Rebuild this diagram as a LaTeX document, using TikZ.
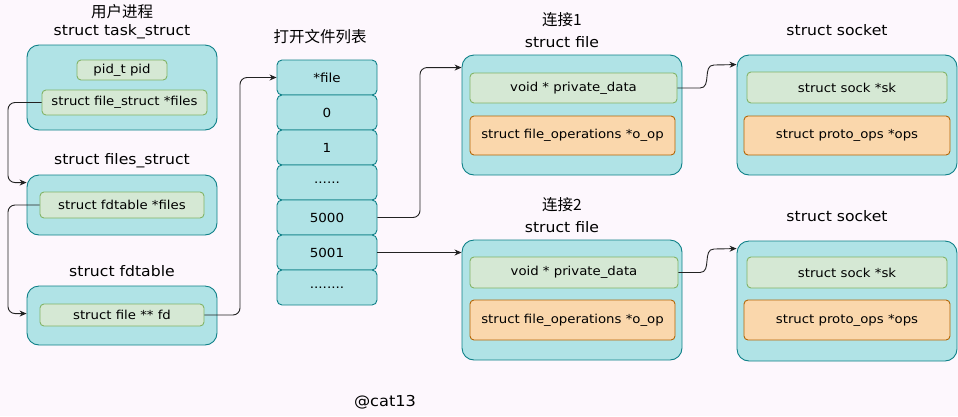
\documentclass[tikz,border=0pt]{standalone}
\usepackage{fontspec}
\setmainfont[FakeStretch=1.08]{DejaVu Sans}
\newfontfamily\cjk{Noto Sans CJK SC}
\usetikzlibrary{arrows.meta}
\definecolor{bgc}{HTML}{FDF7FD}
\definecolor{outerfill}{HTML}{B0E3E6}
\definecolor{outerdraw}{HTML}{0E8088}
\definecolor{gfill}{HTML}{D5E8D4}
\definecolor{gdraw}{HTML}{82B366}
\definecolor{ofill}{HTML}{FAD7AC}
\definecolor{odraw}{HTML}{B46504}
\definecolor{linec}{HTML}{222222}
\begin{document}
\begin{tikzpicture}[x=1pt,y=-1pt,
  outerbox/.style={draw=outerdraw,fill=outerfill,rounded corners=12pt,line width=0.9pt,inner sep=0pt},
  cellbox/.style={draw=outerdraw,fill=outerfill,rounded corners=5pt,line width=0.9pt,inner sep=0pt,minimum width=100pt,minimum height=35pt,font=\fontsize{12.5}{14}\selectfont},
  gbox/.style={draw=gdraw,fill=gfill,rounded corners=4pt,line width=0.9pt,inner sep=0pt,font=\fontsize{12.3}{14}\selectfont},
  obox/.style={draw=odraw,fill=ofill,rounded corners=4pt,line width=0.9pt,inner sep=0pt,font=\fontsize{12.3}{14}\selectfont},
  ttl/.style={font=\fontsize{14.5}{16}\selectfont,inner sep=0pt},
  cttl/.style={font=\fontsize{15.5}{17}\selectfont\cjk,inner sep=0pt},
  conn/.style={draw=linec,line width=0.9pt,rounded corners=7pt,-{Stealth[length=7pt,width=6pt]}}
]
\useasboundingbox[fill=bgc] (0,0) rectangle (958,416);

% task_struct
\node[cttl] (t1a) at (122,12) {用户进程};
\node[ttl] (t1b) at (122,32) {struct task\_struct};
\node[outerbox,minimum width=190pt,minimum height=85pt] (ts) at (122,87.5) {};
\node[gbox,minimum width=90pt,minimum height=20pt] (pid) at (122,70) {pid\_t pid};
\node[gbox,minimum width=165pt,minimum height=25pt] (fsf) at (124.5,102.5) {struct file\_struct *files};

% files_struct
\node[ttl] (t2) at (122,161) {struct files\_struct};
\node[outerbox,minimum width=190pt,minimum height=60pt] (fs) at (122,205) {};
\node[gbox,minimum width=164pt,minimum height=26pt] (fdf) at (122,205) {struct fdtable *files};

% fdtable
\node[ttl] (t3) at (122,271) {struct fdtable};
\node[outerbox,minimum width=190pt,minimum height=59pt] (fdt) at (122,315.5) {};
\node[gbox,minimum width=164pt,minimum height=22pt] (fd) at (122,315) {struct file ** fd};

% open file list
\node[cttl] (t4) at (320,37) {打开文件列表};
\node[cellbox] (c0) at (327,77.5) {*file};
\node[cellbox] (c1) at (327,112.5) {0};
\node[cellbox] (c2) at (327,147.5) {1};
\node[cellbox] (c3) at (327,182.5) {......};
\node[cellbox] (c4) at (327,217.5) {5000};
\node[cellbox] (c5) at (327,252.5) {5001};
\node[cellbox] (c6) at (327,287.5) {........};

% file 1
\node[cttl] (t5a) at (562,20) {连接1};
\node[ttl] (t5b) at (562,42) {struct file};
\node[outerbox,minimum width=220pt,minimum height=120pt] (f1) at (572,115) {};
\node[gbox,minimum width=207pt,minimum height=30pt] (pd1) at (573.5,88) {void * private\_data};
\node[obox,minimum width=205pt,minimum height=39pt] (op1) at (572.5,135.5) {struct file\_operations *o\_op};

% file 2
\node[cttl] (t6a) at (562,205) {连接2};
\node[ttl] (t6b) at (562,227) {struct file};
\node[outerbox,minimum width=220pt,minimum height=120pt] (f2) at (572,300) {};
\node[gbox,minimum width=208pt,minimum height=31pt] (pd2) at (574,272.5) {void * private\_data};
\node[obox,minimum width=205pt,minimum height=40pt] (op2) at (572.5,320) {struct file\_operations *o\_op};

% socket 1
\node[ttl] (t7) at (837,30) {struct socket};
\node[outerbox,minimum width=220pt,minimum height=120pt] (s1) at (847,115) {};
\node[gbox,minimum width=200pt,minimum height=31pt] (sk1) at (847,87.5) {struct sock *sk};
\node[obox,minimum width=206pt,minimum height=39pt] (ops1) at (847,135.5) {struct proto\_ops *ops};

% socket 2
\node[ttl] (t8) at (837,216) {struct socket};
\node[outerbox,minimum width=220pt,minimum height=120pt] (s2) at (847,301) {};
\node[gbox,minimum width=200pt,minimum height=31pt] (sk2) at (847,272.5) {struct sock *sk};
\node[obox,minimum width=206pt,minimum height=40pt] (ops2) at (847,320) {struct proto\_ops *ops};

\node[ttl,font=\fontsize{15}{17}\selectfont] (sig) at (385,402) {@cat13};

% connectors
\draw[conn] (fsf.west) -- (8,102.5) |- ([yshift=-8pt]fs.north west);
\draw[conn] (fdf.west) -- (8,205) |- ([yshift=-28pt]fdt.north west);
\draw[conn] (fd.east) -- (240,315) |- (c0.west);
\draw[conn] (c4.east) -- (420,217.5) |- ([yshift=-13pt]f1.north west);
\draw[conn] (c5.east) -- (f2.west |- c5.east);
\coordinate (k1a) at (700,88);
\coordinate (k1b) at (714,65);
\draw[conn,rounded corners=0pt] (pd1.east) -- (k1a) .. controls (712,88) and (702,65) .. (k1b) -- ([yshift=-10pt]s1.north west);
\coordinate (k2a) at (700,272.5);
\coordinate (k2b) at (714,249);
\draw[conn,rounded corners=0pt] (pd2.east) -- (k2a) .. controls (712,272.5) and (702,249) .. (k2b) -- ([yshift=-8pt]s2.north west);
\end{tikzpicture}
\end{document}
